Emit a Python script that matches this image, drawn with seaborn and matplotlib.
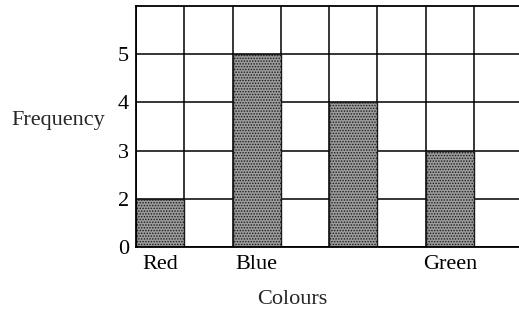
import numpy as np
import pandas as pd
import matplotlib
matplotlib.use("Agg")
import matplotlib.pyplot as plt
import seaborn as sns

# Bar chart data: one shaded column per colour, blank columns in between
colours = ["Red", "Blue", "", "Green"]
frequencies = [2, 5, 4, 3]
column_slots = [0, 2, 4, 6]
y_ticks = [0, 2, 3, 4, 5]

df = pd.DataFrame({"slot": column_slots, "frequency": frequencies, "colour": colours})

sns.set_theme(style="white")
plt.rcParams["font.family"] = ["Liberation Serif", "DejaVu Serif"]
plt.rcParams["hatch.color"] = "#333333"
plt.rcParams["hatch.linewidth"] = 0.7


# The vertical axis jumps from 0 straight to 2 in one grid row, then one row per unit
def forward(v):
    v = np.asarray(v, dtype=float)
    return np.where(v <= 2, v / 2.0, v - 1.0)


def inverse(u):
    u = np.asarray(u, dtype=float)
    return np.where(u <= 1, u * 2.0, u + 1.0)


fig = plt.figure(figsize=(5.19, 3.20), dpi=100)
ax = fig.add_axes([136 / 519, 73 / 320, (519 - 136) / 519, 241 / 320])

sns.barplot(data=df, x="slot", y="frequency", native_scale=True, width=0.5,
            color="#9c9c9c", edgecolor="#1a1a1a", linewidth=1.0,
            saturation=1, ax=ax, zorder=2)
for bar in ax.patches:
    bar.set_hatch("......")

ax.set_yscale("function", functions=(forward, inverse))
ax.set_ylim(0, 6)
ax.set_xlim(-0.5, 6.5 + 45 / 48.3)

ax.set_yticks(y_ticks)
ax.set_yticklabels([str(t) for t in y_ticks])
ax.yaxis.set_minor_locator(matplotlib.ticker.NullLocator())

labelled = [(s, c) for s, c in zip(column_slots, colours) if c]
ax.set_xticks([s for s, _ in labelled])
ax.set_xticklabels([c for _, c in labelled])
ax.set_xticks(np.arange(-0.5, 7.0, 1.0), minor=True)

ax.grid(False)
ax.grid(True, axis="x", which="minor", color="black", linewidth=1.1)
ax.grid(True, axis="y", which="major", color="black", linewidth=1.1)
ax.set_axisbelow(True)

for side, spine in ax.spines.items():
    spine.set_visible(True)
    spine.set_color("black")
    spine.set_linewidth(1.3)
    spine.set_zorder(3)
ax.spines["right"].set_visible(False)

ax.tick_params(axis="both", which="both", length=0, labelsize=16, colors="black")
ax.tick_params(axis="y", pad=5)
ax.tick_params(axis="x", pad=6)

ax.set_xlabel("")
ax.set_ylabel("")
fig.text(58 / 519, 1 - 121 / 320, "Frequency", fontsize=16, ha="center", va="center")
fig.text(292 / 519, 1 - 300 / 320, "Colours", fontsize=16, ha="center", va="center")

fig.savefig("out.png", dpi=100)
